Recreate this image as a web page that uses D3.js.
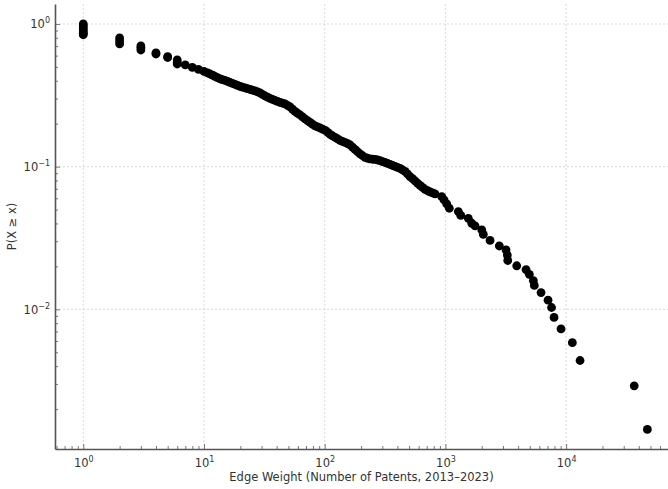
<!DOCTYPE html>
<html>
<head>
<meta charset="utf-8">
<script src="https://cdn.jsdelivr.net/npm/d3@7"></script>
<style>
  body { margin: 0; background: #fff; }
  svg text { font-family: "DejaVu Sans", sans-serif; }
</style>
</head>
<body>
<div id="chart"></div>
<script>
// CCDF of edge weights
var edgeWeight = [
  1, 1, 1, 1, 1, 1, 1,
  2, 2, 2, 3, 3, 3, 4, 4, 5, 5, 6, 6, 6, 7, 8, 9, 10,
  11.2, 12.3, 13.6, 14.9, 16.4, 18.1, 19.9, 21.9, 24.1, 26.5, 29.1, 32.0, 35.2, 38.7,
  42.6, 46.9, 51.6, 56.7, 62.4, 68.7, 75.5, 83.1, 91.4, 101, 111, 122, 134, 147,
  162, 178, 196, 216, 237, 261, 287, 316, 348, 382, 421, 463, 509, 560, 616, 678,
  745, 820,
  // the dense band, between the ones above
  10.7, 11.8, 12.9, 14.2, 15.7, 17.2, 19.0, 20.8, 22.9, 25.2, 27.8, 30.5, 33.6, 36.9,
  40.6, 44.7, 49.2, 54.1, 59.5, 65.5, 72.0, 79.2, 87.2, 95.9, 106, 116, 128, 140,
  155, 170, 187, 206, 226, 249, 274, 301, 331, 365, 401, 441, 485, 534, 587, 646,
  711, 782,
  // sparse tail
  932, 974, 1025, 1077, 1279, 1339, 1548, 1652, 1760, 2000, 2061, 2342, 2796, 3177,
  3257, 3282, 3896, 4654, 4957, 5350, 5453, 6196, 7082, 7569, 7940, 9074, 11258,
  13040, 36650, 47080
];
var probAtLeast = [
  1.0, 0.97, 0.94, 0.91, 0.88, 0.86, 0.84,
  0.798, 0.76, 0.724, 0.701, 0.68, 0.657, 0.626, 0.616, 0.59, 0.582, 0.56, 0.54, 0.524, 0.516, 0.496, 0.48, 0.465,
  0.446, 0.4286, 0.4117, 0.4018, 0.389, 0.3767, 0.3648, 0.3561, 0.3475, 0.3392, 0.3284, 0.313, 0.3006, 0.291,
  0.2818, 0.2751, 0.262, 0.2436, 0.2303, 0.216, 0.2041, 0.1929, 0.1867, 0.1794, 0.1681, 0.1602, 0.1527, 0.1478,
  0.142, 0.132, 0.1227, 0.116, 0.1132, 0.1123, 0.1102, 0.107, 0.1036, 0.1003, 0.0971, 0.0926, 0.0851, 0.0794, 0.0738, 0.0692,
  0.0665, 0.0644,
  0.4535, 0.4377, 0.4204, 0.4071, 0.3955, 0.3828, 0.3707, 0.3607, 0.3521, 0.3437, 0.3338, 0.3206, 0.3069, 0.2958,
  0.2863, 0.2786, 0.2685, 0.2529, 0.2367, 0.223, 0.2101, 0.1983, 0.1897, 0.1831, 0.1737, 0.1641, 0.1564, 0.1502,
  0.1449, 0.1369, 0.1272, 0.1192, 0.1145, 0.1127, 0.1113, 0.1086, 0.1053, 0.1019, 0.0988, 0.0948, 0.0889, 0.0823, 0.0766, 0.0715,
  0.0678, 0.0654,
  0.0616, 0.0584, 0.0548, 0.0511, 0.0484, 0.0455, 0.0434, 0.0401, 0.0384, 0.036, 0.0335, 0.0304, 0.0278, 0.0261,
  0.024, 0.022, 0.0202, 0.019, 0.0176, 0.0159, 0.0147, 0.0131, 0.0116, 0.0103, 0.00877, 0.00729, 0.00584,
  0.00438, 0.00291, 0.00144
];

var xMajor = [1, 10, 100, 1000, 10000];
var xMajorExp = ["0", "1", "2", "3", "4"];
var yMajor = [1, 0.1, 0.01];
var yMajorExp = ["0", "\u22121", "\u22122"];

var xTitle = "Edge Weight (Number of Patents, 2013\u20132023)";
var yTitle = "P(X \u2265 x)";

var width = 668, height = 489;
var margin = {top: 4, right: 0, bottom: 40, left: 55};

var svg = d3.select("#chart").append("svg")
    .attr("width", width)
    .attr("height", height);

var x = d3.scaleLog()
    .domain([0.583, 69800])
    .range([margin.left, width - margin.right]);

var y = d3.scaleLog()
    .domain([0.00105, 1.38])
    .range([height - margin.bottom, margin.top]);

// minor tick positions (2..9 in each decade inside the domain)
function minors(scale) {
    var d = scale.domain(), out = [];
    for (var e = -4; e <= 5; e++) {
        for (var m = 2; m <= 9; m++) {
            var v = m * Math.pow(10, e);
            if (v >= d[0] && v <= d[1]) out.push(v);
        }
    }
    return out;
}

// grid
var grid = svg.append("g").attr("class", "grid");
grid.selectAll(".gx").data(xMajor).enter().append("line")
    .attr("x1", function(d) { return x(d); })
    .attr("x2", function(d) { return x(d); })
    .attr("y1", margin.top)
    .attr("y2", height - margin.bottom)
    .attr("stroke", "#cfcfcf")
    .attr("stroke-width", 0.8)
    .attr("stroke-dasharray", "2,2");
grid.selectAll(".gy").data(yMajor).enter().append("line")
    .attr("x1", margin.left)
    .attr("x2", width - margin.right)
    .attr("y1", function(d) { return y(d); })
    .attr("y2", function(d) { return y(d); })
    .attr("stroke", "#cfcfcf")
    .attr("stroke-width", 0.8)
    .attr("stroke-dasharray", "2,2");

// points
var pts = d3.zip(edgeWeight, probAtLeast);
svg.append("g").selectAll("circle")
    .data(pts)
    .enter().append("circle")
    .attr("cx", function(d) { return x(d[0]); })
    .attr("cy", function(d) { return y(d[1]); })
    .attr("r", 4.4)
    .attr("fill", "#000");

// axes, ticks pointing inward
var xAxis = svg.append("g")
    .attr("transform", "translate(0," + (height - margin.bottom) + ")")
    .call(d3.axisBottom(x).tickValues(xMajor).tickSizeInner(-5).tickSizeOuter(0).tickPadding(10)
        .tickFormat(""));
svg.append("g")
    .attr("transform", "translate(0," + (height - margin.bottom) + ")")
    .call(d3.axisBottom(x).tickValues(minors(x)).tickSizeInner(-3).tickSizeOuter(0).tickFormat(""))
    .select(".domain").remove();

var yAxis = svg.append("g")
    .attr("transform", "translate(" + margin.left + ",0)")
    .call(d3.axisLeft(y).tickValues(yMajor).tickSizeInner(-5).tickSizeOuter(0).tickPadding(6)
        .tickFormat(""));
svg.append("g")
    .attr("transform", "translate(" + margin.left + ",0)")
    .call(d3.axisLeft(y).tickValues(minors(y)).tickSizeInner(-3).tickSizeOuter(0).tickFormat(""))
    .select(".domain").remove();

svg.selectAll(".domain").attr("stroke", "#555").attr("stroke-width", 1.6);
svg.selectAll(".tick line").attr("stroke", "#555").attr("stroke-width", 0.8);

// tick labels as 10 with a raised exponent
function powerLabel(sel, exp) {
    sel.append("tspan").text("10");
    sel.append("tspan").text(exp)
        .attr("dy", -5)
        .style("font-size", "8px");
}

xAxis.selectAll(".tick").each(function(d, i) {
    var t = d3.select(this).append("text")
        .attr("y", 18)
        .attr("text-anchor", "middle")
        .attr("fill", "#333")
        .style("font-size", "11.5px");
    powerLabel(t, xMajorExp[i]);
});

yAxis.selectAll(".tick").each(function(d, i) {
    var t = d3.select(this).append("text")
        .attr("x", -5)
        .attr("y", 4)
        .attr("text-anchor", "end")
        .attr("fill", "#333")
        .style("font-size", "11.5px");
    powerLabel(t, yMajorExp[i]);
});

// axis titles
svg.append("text")
    .attr("x", (margin.left + width - margin.right) / 2)
    .attr("y", 481)
    .attr("text-anchor", "middle")
    .attr("fill", "#333")
    .style("font-size", "11.5px")
    .text(xTitle);

svg.append("text")
    .attr("transform", "translate(16," + ((margin.top + height - margin.bottom) / 2) + ") rotate(-90)")
    .attr("text-anchor", "middle")
    .attr("fill", "#333")
    .style("font-size", "11.5px")
    .text(yTitle);
</script>
</body>
</html>
